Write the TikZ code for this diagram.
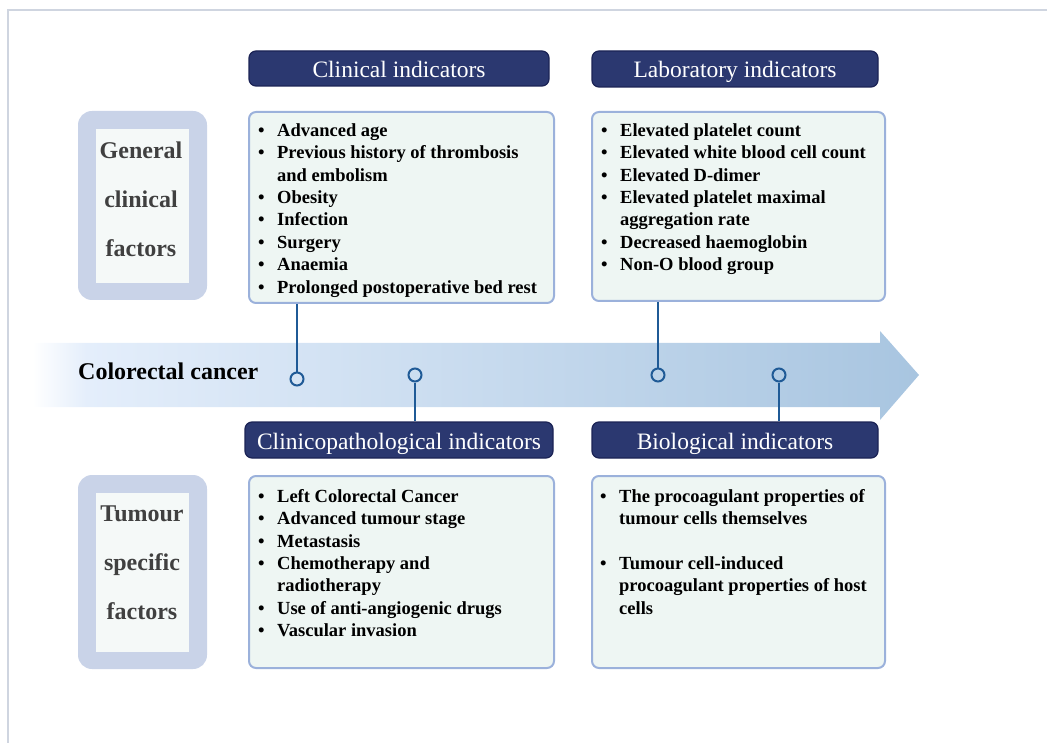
\documentclass[tikz,border=0pt]{standalone}
\usepackage{fontspec}
\setmainfont{Liberation Serif}
\definecolor{navy}{HTML}{2B3870}
\definecolor{navyedge}{HTML}{1B2355}
\definecolor{boxfill}{HTML}{EEF6F3}
\definecolor{boxedge}{HTML}{9BB1DB}
\definecolor{sideouter}{HTML}{C9D3E8}
\definecolor{sideinner}{HTML}{F5F9F8}
\definecolor{linkc}{HTML}{1F5A96}
\definecolor{framec}{HTML}{CFD5E0}
\definecolor{arrA}{HTML}{E4EEFB}
\definecolor{arrB}{HTML}{A8C5E0}
\definecolor{sidetext}{HTML}{404040}
\pgfdeclarehorizontalshading{arrowshade}{100bp}{color(0bp)=(white); color(25bp)=(white); color(28bp)=(arrA); color(75bp)=(arrB); color(100bp)=(arrB)}
\newcommand{\bi}[1]{\makebox[19pt][l]{\textbullet}#1}
\newcommand{\ci}{\hspace*{19pt}}
\begin{document}
\begin{tikzpicture}[x=1pt,y=-1pt,
  hdr/.style={draw=navyedge, line width=1.2pt, fill=navy, rounded corners=7pt, text=white,
    font=\fontsize{23.5}{28}\selectfont, inner sep=0, text height=21pt, text depth=3pt},
  infobox/.style={draw=boxedge, line width=2pt, fill=boxfill, rounded corners=7pt, inner sep=0},
  sideo/.style={fill=sideouter, rounded corners=14pt, inner sep=0},
  sidei/.style={fill=sideinner, inner sep=0},
  sidetxt/.style={font=\fontsize{24}{49}\selectfont\bfseries, text=sidetext, align=center, inner sep=0},
  listtxt/.style={anchor=north west, inner sep=0, align=left, font=\fontsize{18.5}{22.4}\selectfont\bfseries},
  link/.style={draw=linkc, line width=2pt},
  dot/.style={circle, draw=linkc, line width=2pt, minimum size=13pt, inner sep=0}]
\useasboundingbox (0,0) rectangle (1047,743);
\draw[framec, line width=2pt] (8,743) -- (8,10) -- (1047,10);

% arrow
\shade[shading=arrowshade] (33,343) -- (880,343) -- (880,331) -- (919,375) -- (880,420) -- (880,407) -- (33,407) -- cycle;
\node[anchor=west, inner sep=0, font=\fontsize{24}{28}\selectfont\bfseries] (crc) at (78,371) {Colorectal cancer};

% side labels
\node[sideo, minimum width=129pt, minimum height=189pt] (gen) at (142.5,205.5) {};
\node[sidei, minimum width=93pt, minimum height=154pt] (genin) at (142.5,206) {};
\node[sidetxt] (gentxt) at (141,199) {General\\clinical\\factors};
\node[sideo, minimum width=129pt, minimum height=194pt] (tum) at (142.5,572) {};
\node[sidei, minimum width=93pt, minimum height=159pt] (tumin) at (142.5,572.5) {};
\node[sidetxt] (tumtxt) at (142,563) {Tumour\\specific\\factors};

% headers
\node[hdr, minimum width=300pt, minimum height=35pt] (clinH) at (399,68.5) {Clinical indicators};
\node[hdr, minimum width=286pt, minimum height=36pt] (labH) at (735,69) {Laboratory indicators};
\node[hdr, minimum width=308pt, minimum height=36pt] (cpH) at (399,440) {Clinicopathological indicators};
\node[hdr, minimum width=286pt, minimum height=36pt] (bioH) at (735,440) {Biological indicators};

% boxes
\node[infobox, minimum width=305pt, minimum height=191pt] (clin) at (401.5,207.5) {};
\node[infobox, minimum width=293pt, minimum height=189pt] (lab) at (738.5,206.5) {};
\node[infobox, minimum width=305pt, minimum height=192pt] (cp) at (401.5,572) {};
\node[infobox, minimum width=293pt, minimum height=192pt] (bio) at (738.5,572) {};

\node[listtxt] (clintxt) at (258,120.4) {\strut\bi{Advanced age}\\
\bi{Previous history of thrombosis}\\
\ci and embolism\\
\bi{Obesity}\\
\bi{Infection}\\
\bi{Surgery}\\
\bi{Anaemia}\\
\bi{Prolonged postoperative bed rest}};

\node[listtxt] (labtxt) at (601,120.4) {\strut\bi{Elevated platelet count}\\
\bi{Elevated white blood cell count}\\
\bi{Elevated D-dimer}\\
\bi{Elevated platelet maximal}\\
\ci aggregation rate\\
\bi{Decreased haemoglobin}\\
\bi{Non-O blood group}};

\node[listtxt] (cptxt) at (258,486.4) {\strut\bi{Left Colorectal Cancer}\\
\bi{Advanced tumour stage}\\
\bi{Metastasis}\\
\bi{Chemotherapy and}\\
\ci radiotherapy\\
\bi{Use of anti-angiogenic drugs}\\
\bi{Vascular invasion}};

\node[listtxt] (biotxt) at (600,486.4) {\strut\bi{The procoagulant properties of}\\
\ci tumour cells themselves\\[22.4pt]
\bi{Tumour cell-induced}\\
\ci procoagulant properties of host\\
\ci cells};

% connectors
\node[dot] (d1) at (297,379) {};
\node[dot] (d2) at (415,375) {};
\node[dot] (d3) at (658,375) {};
\node[dot] (d4) at (779,375) {};
\draw[link] (d1 |- clin.south) -- (d1.north);
\draw[link] (d2.south) -- (d2 |- cpH.north);
\draw[link] (d3 |- lab.south) -- (d3.north);
\draw[link] (d4.south) -- (d4 |- bioH.north);
\end{tikzpicture}
\end{document}
